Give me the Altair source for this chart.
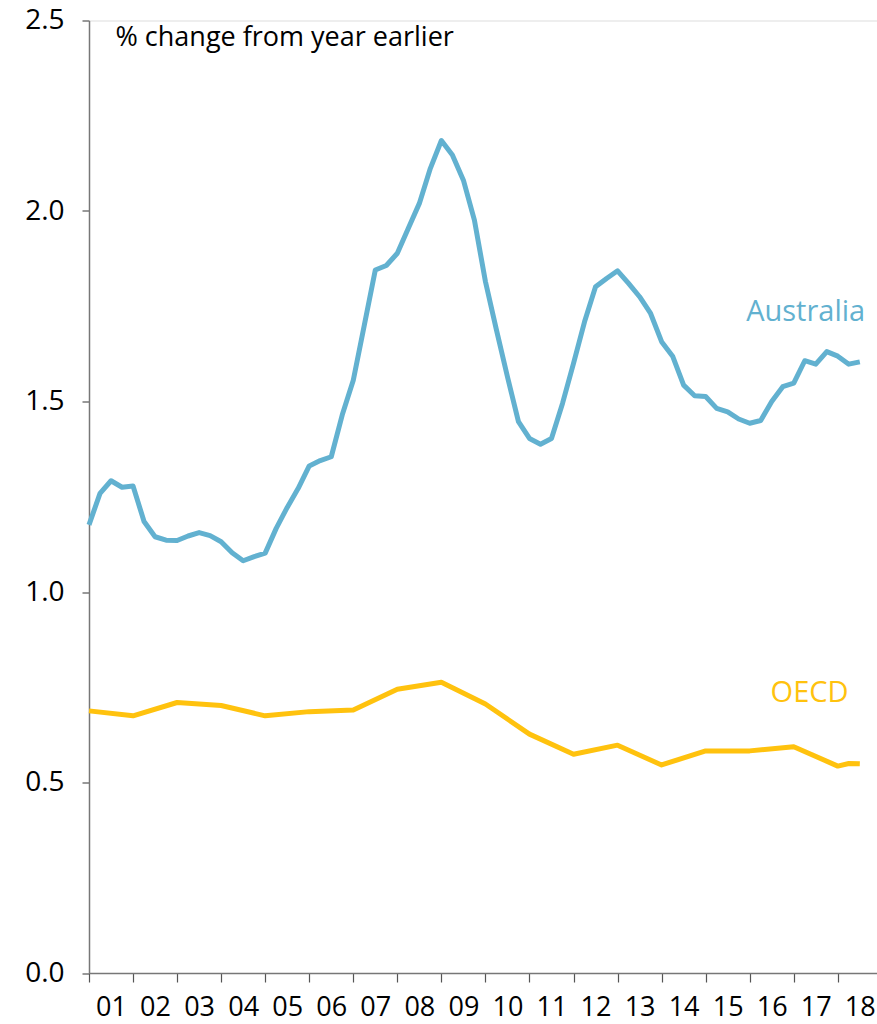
import altair as alt
import pandas as pd

# Australia, quarterly, % change from year earlier
aus_x = [2001 + 0.25 * i for i in range(71)]
aus_y = [1.176, 1.259, 1.292, 1.275, 1.278, 1.185, 1.145, 1.136,
         1.135, 1.147, 1.156, 1.148, 1.132, 1.103, 1.082, 1.093,
         1.102, 1.167, 1.222, 1.272, 1.331, 1.345, 1.355, 1.465,
         1.556, 1.700, 1.845, 1.857, 1.889, 1.955, 2.020, 2.112,
         2.185, 2.147, 2.081, 1.976, 1.815, 1.688, 1.565, 1.447,
         1.403, 1.388, 1.403, 1.495, 1.600, 1.709, 1.801, 1.823,
         1.843, 1.810, 1.775, 1.731, 1.657, 1.619, 1.543, 1.515,
         1.513, 1.482, 1.473, 1.454, 1.443, 1.450, 1.500, 1.539,
         1.548, 1.607, 1.598, 1.631, 1.619, 1.598, 1.604]

# OECD
oecd_x = [2001, 2002, 2003, 2004, 2005, 2006, 2007, 2008, 2009, 2010,
          2011, 2012, 2013, 2014, 2015, 2016, 2017, 2018, 2018.25, 2018.5]
oecd_y = [0.688, 0.675, 0.710, 0.702, 0.675, 0.686, 0.690, 0.745, 0.763, 0.706,
          0.627, 0.574, 0.598, 0.546, 0.583, 0.583, 0.594, 0.543, 0.550, 0.549]

year_ticks = list(range(2001, 2019))
y_ticks = [0.0, 0.5, 1.0, 1.5, 2.0, 2.5]

series_names = ["Australia", "OECD"]
series_colors = ["#62B1D0", "#FFC20E"]

# series label anchors
label_text = ["Australia", "OECD"]
label_x = [2017.27, 2017.36]
label_y = [1.71, 0.71]

df = pd.concat([
    pd.DataFrame({"x": aus_x, "y": aus_y, "series": "Australia"}),
    pd.DataFrame({"x": oecd_x, "y": oecd_y, "series": "OECD"}),
])
labels = pd.DataFrame({"x": label_x, "y": label_y, "series": label_text})

FONT = "Open Sans"

xscale = alt.Scale(domain=[2001, 2018.89], nice=False, zero=False)
yscale = alt.Scale(domain=[0, 2.5], nice=False)
cscale = alt.Scale(domain=series_names, range=series_colors)

lines = alt.Chart(df).mark_line(strokeWidth=5, strokeJoin="round").encode(
    x=alt.X("x:Q", scale=xscale, axis=alt.Axis(
        values=year_ticks, labelExpr="slice(toString(datum.value), 2)",
        title=None, grid=False, tickSize=9, labelOffset=22,
        labelPadding=33, labelBaseline="alphabetic", labelFlush=False,
        labelOverlap=False, labelFontSize=27, labelFont=FONT,
        labelColor="#000", domainColor="#777", tickColor="#555",
        domainWidth=1.5, tickWidth=1.2)),
    y=alt.Y("y:Q", scale=yscale, axis=alt.Axis(
        values=y_ticks, format=".1f", grid=False, tickSize=7,
        labelPadding=18, labelFontSize=28, labelFont=FONT, labelColor="#000",
        domainColor="#777", tickColor="#555", domainWidth=1.5, tickWidth=1.2,
        title="% change from year earlier", titleAngle=0, titleAlign="left",
        titleBaseline="alphabetic", titleX=26, titleY=25,
        titleFontSize=27, titleFont=FONT, titleFontWeight="normal",
        titleColor="#000")),
    color=alt.Color("series:N", scale=cscale, legend=None),
    detail="series:N",
)

text = alt.Chart(labels).mark_text(fontSize=29, font=FONT, align="center",
                                   baseline="alphabetic").encode(
    x=alt.X("x:Q", scale=xscale),
    y=alt.Y("y:Q", scale=yscale),
    text="series:N",
    color=alt.Color("series:N", scale=cscale, legend=None),
)

chart = alt.layer(lines, text).properties(
    width=788, height=952.5,
    autosize=alt.AutoSizeParams(type="none"),
    padding={"left": 89, "top": 20.5, "right": 0, "bottom": 51},
).configure_view(stroke=None).configure(background="white")

chart.save("out.html", embed_options={"renderer": "svg", "actions": False})
